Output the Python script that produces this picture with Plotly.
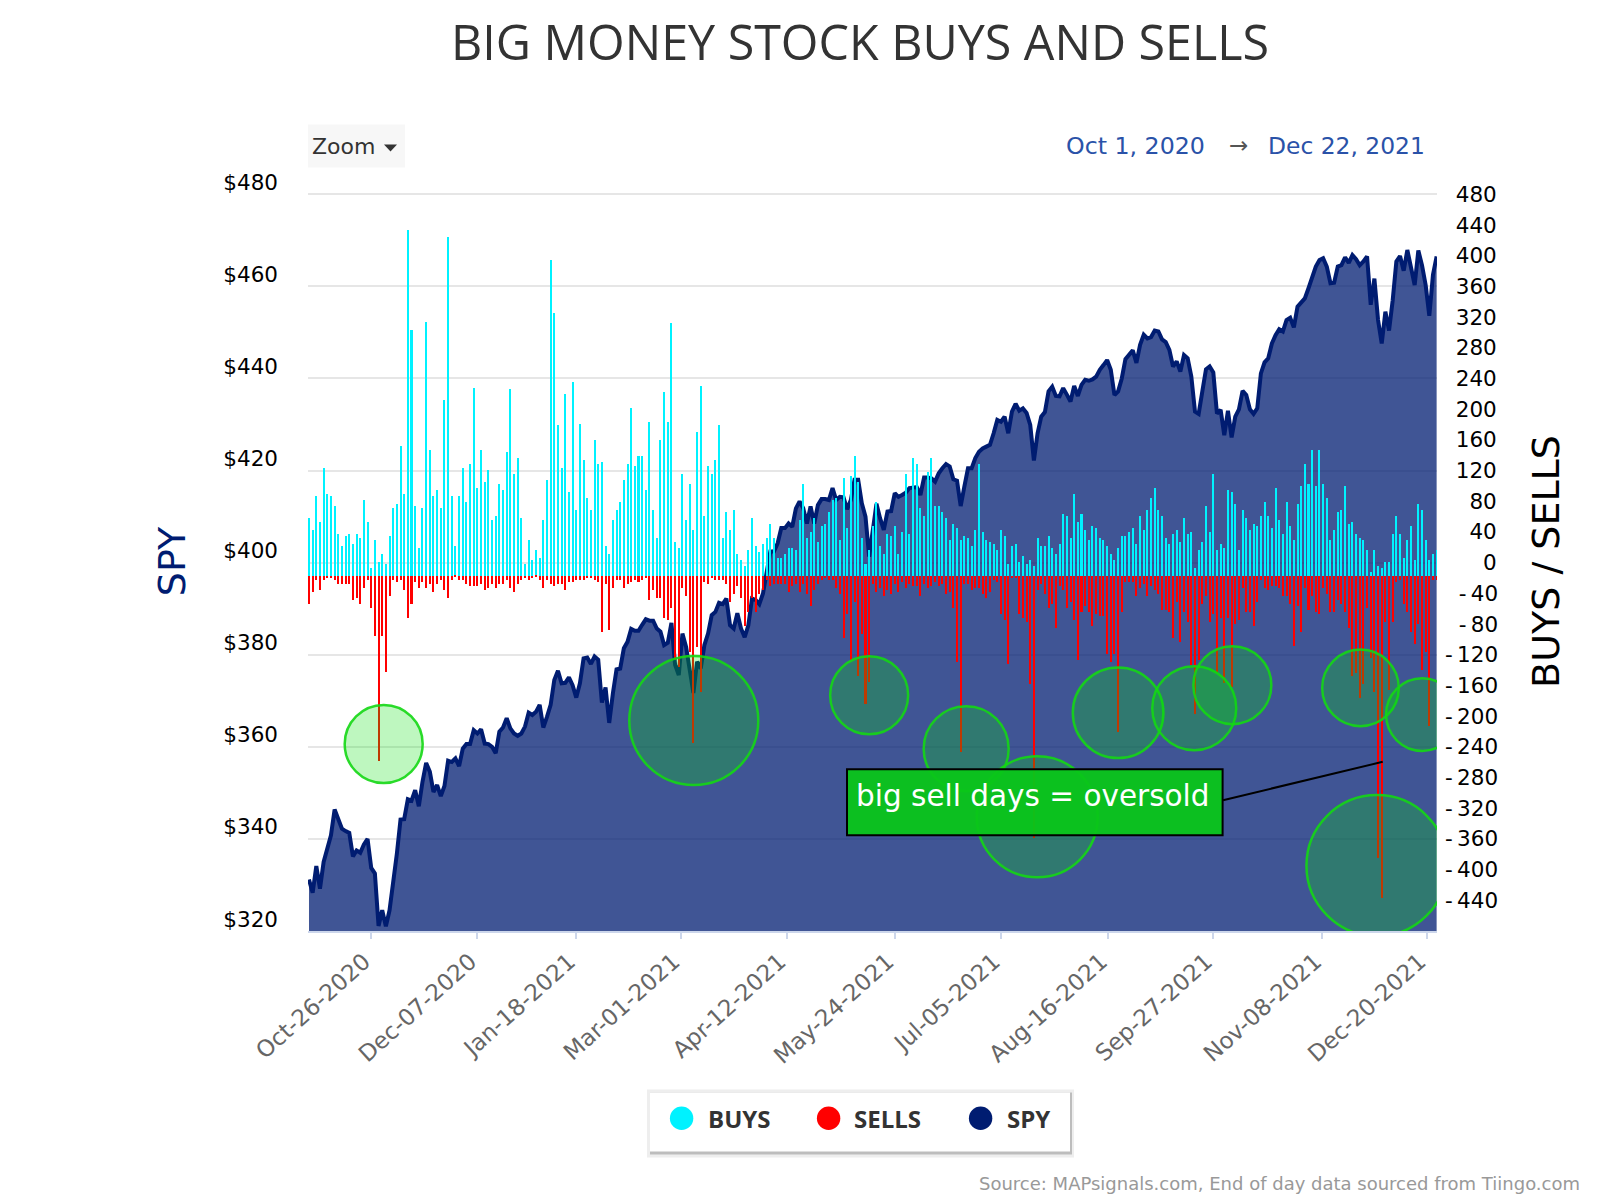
import pandas as pd
import plotly.graph_objects as go

buys = [76,60,104,70,141,107,104,91,55,39,52,55,42,55,50,99,70,10,47,18,29,16,52,89,94,169,107,451,321,91,
37,89,331,164,104,112,89,229,441,104,39,104,141,96,146,245,115,164,123,138,73,78,120,112,162,243,133,154,76,16,
47,21,34,23,73,125,412,342,196,141,237,110,253,86,198,151,102,86,177,146,149,39,29,73,86,96,125,146,219,143,
156,156,112,201,86,50,177,240,201,329,44,37,133,73,120,60,188,248,78,143,133,151,196,50,83,60,86,29,21,13,
34,76,39,31,42,50,68,50,23,23,29,37,37,34,73,120,50,57,76,44,65,68,83,99,102,47,128,63,130,156,
123,50,16,34,65,96,39,29,55,52,65,29,57,133,55,154,146,89,78,136,154,91,91,83,76,47,68,63,47,52,
50,39,60,146,57,47,44,42,34,60,52,16,39,42,18,26,16,21,13,50,39,39,52,37,29,42,81,78,50,107,
70,81,60,47,65,63,50,47,39,29,21,37,52,52,57,63,42,78,60,86,102,115,86,78,50,42,55,60,44,76,
55,57,10,34,44,91,57,133,34,42,37,112,110,94,34,86,76,60,68,65,78,96,78,63,115,73,55,96,65,47,
94,117,146,120,164,117,164,120,102,47,60,83,86,117,68,70,55,50,47,34,5,34,13,10,18,18,55,78,55,23,
47,65,21,94,86,47,21,29,34]

sells = [-37,-21,-5,-18,-5,-3,-3,-5,-10,-10,-10,-10,-31,-29,-37,-16,-5,-42,-78,-241,-78,-125,-26,-5,-8,-5,-18,-55,-37,-8,
-16,-8,-16,-10,-21,-10,-5,-18,-29,-5,-1,-5,-5,-10,-13,-13,-13,-10,-18,-16,-10,-16,-10,-10,-5,-16,-21,-10,-5,-3,
-5,-3,-1,-5,-16,-5,-10,-13,-10,-10,-18,-8,-8,-5,-5,-5,-3,-3,-5,-8,-73,-10,-70,-16,-5,-5,-16,-10,-8,-5,
-8,-5,-3,-31,-18,-29,-29,-55,-57,-42,-110,-118,-16,-26,-99,-218,-92,-151,-8,-10,-3,-5,-5,-5,-10,-34,-23,-13,-29,-65,
-47,-29,-47,-23,-18,-5,-13,-10,-10,-10,-10,-21,-13,-10,-21,-10,-23,-39,-18,-10,-5,-3,-5,-5,-16,-23,-81,-50,-110,-34,
-130,-76,-167,-138,-10,-21,-16,-26,-18,-23,-10,-21,-8,-16,-10,-13,-13,-26,-10,-16,-13,-8,-13,-10,-23,-21,-42,-112,-229,-10,
-10,-18,-16,-16,-23,-29,-21,-5,-8,-50,-57,-115,-3,-3,-50,-55,-60,-141,-341,-18,-10,-23,-42,-37,-68,-13,-18,-42,-34,-57,
-110,-47,-39,-47,-65,-50,-52,-52,-102,-112,-102,-203,-47,-8,-8,-8,-26,-16,-10,-26,-13,-18,-23,-44,-44,-47,-81,-34,-86,-47,
-60,-116,-180,-110,-37,-26,-60,-50,-127,-55,-140,-55,-144,-63,-57,-16,-47,-47,-65,-34,-5,-16,-18,-13,-13,-16,-26,-26,-37,-91,
-39,-73,-16,-44,-26,-47,-50,-16,-23,-47,-47,-31,-37,-47,-68,-130,-127,-159,-141,-42,-107,-151,-368,-420,-60,-149,-60,-8,-5,-37,
-47,-73,-89,-63,-123,-99,-196,-5,-5]

spy = [331.2,328.3,334.1,329.2,335,337.9,340.8,346.4,344.4,342.2,341.7,341.3,336.2,337.5,337,338.8,340,333.7,332.5,321.1,
324.5,321,324.5,330.3,336.8,344.2,344.3,348.6,348.3,350.6,347.1,352.4,356.5,354.6,350.2,351.7,349.3,351.5,357,356.7,
357.5,355.8,359.6,360.6,360.6,363.6,362.9,363.8,360.7,360.6,360,358.6,363.3,364.2,366.2,364,362.9,362.4,362.9,364.4,
367.4,366.9,367.6,369.1,364.2,366.5,369.1,374.5,376.5,373.8,373.9,375.1,373.4,370.7,373.8,379.2,379.4,378,379.6,378.9,
369.6,372.9,365.2,371.6,376.8,377,381.4,382.8,385.6,385.2,385.2,386.5,387.7,387.4,387.4,385.7,385,382.1,382.6,386.9,
377.8,375.6,384.6,381.7,376.7,371.7,378.5,377,382.1,384.6,388.6,389.3,391.3,391,392.2,386.4,385.7,389,385.7,383.8,
386.4,392.2,391.9,391,393.3,398.4,402.4,402.4,404.2,407.5,407.5,408.5,407.8,411.8,413.3,411.8,408.5,412.2,408.5,412.5,
413.8,413.8,413.6,416.2,413.6,414.3,414.2,411.6,413.6,418,418,412.9,410,401.3,407.1,412.8,409.6,407.1,411.1,411.2,
415.1,414.3,414.7,415.2,416.2,416.2,416.4,414.7,418.5,418.5,418.3,417.6,419.4,420.5,421.4,420.9,418.1,417.8,412.3,416.5,
420.5,420.5,422.7,424.1,424.8,425.2,425.6,428.1,431,430.6,431.7,428.1,432.8,434.5,433,433.5,432.5,429.9,422.2,428.1,
431.7,432.7,437.2,438.2,436.2,436.1,437.9,436.5,435,438.4,436.2,438.6,439.7,439.5,439.8,440.4,441.9,442.9,444,441.9,
436.4,437.2,440,444.2,445,446.1,443.4,447.3,449.5,448.7,449,450.4,450.2,448.5,447.9,446.2,442.6,443.7,441.5,445.1,
444.4,440.4,432.8,432.3,437.2,442,442.6,441.3,432.4,433.2,427.7,433,427.2,431.7,433.3,437.3,436.4,433.3,432.3,433.5,
441.1,443.5,444.4,447.6,449.4,450.7,450.2,452.7,453.2,451.1,455.6,456.5,457.4,459.6,462.1,464.3,465.7,466.1,464.3,460.7,
460.8,464.3,464.6,466.3,465.1,466.8,465.9,464.6,465.4,466.5,456,461.7,452.7,447.6,454.5,450.4,457,465.4,466.6,463.4,
467.9,463.6,460.3,467.8,464.6,460.3,453.6,462.5,466.5]

holidays = ["2020-11-26","2020-12-25","2021-01-01","2021-01-18","2021-02-15","2021-04-02",
            "2021-05-31","2021-07-05","2021-09-06","2021-11-25"]
days = pd.bdate_range("2020-10-01", "2021-12-22").difference(pd.to_datetime(holidays))
dates = [d.strftime("%b-%d-%Y") for d in days]

tick_labels = ["Oct-26-2020","Dec-07-2020","Jan-18-2021","Mar-01-2021","Apr-12-2021","May-24-2021",
               "Jul-05-2021","Aug-16-2021","Sep-27-2021","Nov-08-2021","Dec-20-2021"]
tick_pos = [17,46,73,101.5,130.5,160,189,218.3,247,276.8,305.3]
left_ticks = [320,340,360,380,400,420,440,460,480]
right_ticks = [480,440,400,360,320,280,240,200,160,120,80,40,0,-40,-80,-120,-160,-200,-240,-280,-320,-360,-400,-440]

# oversold markers: trading-day position, SPY level, radius in pixels
circle_pos = [20.4,105.1,153,179.5,198.9,221,241.8,252.2,287.2,304.1,291.7]
circle_lvl = [360.6,365.7,371.2,359.6,344.8,367.4,368.4,373.4,372.8,367,334.2]
circle_rad = [39,64.5,39,42.5,60.5,45.3,42,39,38.3,36.3,70.5]

legend_names = ["BUYS", "SELLS", "SPY"]
legend_colors = ["#00f2ff", "#ff0000", "#001c71"]

W, H = 1600, 1200
L, R, T, B = 308, 1437, 192.4, 930.7
def px(x): return (x - L) / (R - L)
def py(y): return (B - y) / (B - T)
BAR_ZERO = 576
UNIT = 0.767
FONT = "DejaVu Sans"
NAVY = "#001c71"

def right_label(v):
    s = str(v)
    pad = 3 - len(s.lstrip("-"))
    if v < 0:
        return "\u2007" * pad + "-\u2009" + s[1:]
    return "\u2007" * pad + "\u2002" + s

fig = go.Figure()
fig.add_trace(go.Scatter(x=dates, y=spy, mode="lines", name="SPY", line=dict(color=NAVY, width=4),
                         fill="tozeroy", fillcolor="rgba(0,28,113,0.75)", showlegend=False,
                         yaxis="y", hoverinfo="skip"))
fig.add_trace(go.Scatter(x=[dates[0]], y=[None], yaxis="y2", showlegend=False, hoverinfo="skip"))
fig.add_trace(go.Bar(x=dates, y=buys, name="BUYS", marker=dict(color="#00f2ff", line_width=0), width=0.55,
                     yaxis="y3", showlegend=False))
fig.add_trace(go.Bar(x=dates, y=sells, name="SELLS", marker=dict(color="#ff0000", line_width=0), width=0.55,
                     yaxis="y3", showlegend=False))

shapes = []
for c, l, r in zip(circle_pos, circle_lvl, circle_rad):
    shapes.append(dict(type="circle", xref="x", yref="y", xsizemode="pixel", ysizemode="pixel",
                       xanchor=c, yanchor=l, x0=-r, x1=r, y0=-r, y1=r,
                       fillcolor="rgba(5,224,8,0.26)", line=dict(color="rgba(20,215,20,0.9)", width=2.5)))
def rect(x0, x1, y0, y1, fill, **kw):
    return dict(type="rect", xref="paper", yref="paper", x0=px(x0), x1=px(x1), y0=py(y0), y1=py(y1),
                fillcolor=fill, line=kw.get("line", dict(width=0)))
# callout
shapes.append(dict(type="line", xref="paper", yref="paper", x0=px(1223), y0=py(800), x1=px(1382.7), y1=py(761.7),
                   line=dict(color="black", width=2)))
shapes.append(rect(847, 1222.6, 769, 835, "rgba(10,197,25,0.95)", line=dict(color="black", width=2)))
# zoom button
shapes.append(rect(308, 405, 125, 168, "#f7f7f7"))
shapes.append(dict(type="path", xref="paper", yref="paper",
                   path=f"M {px(384)} {py(145)} L {px(397)} {py(145)} L {px(390.5)} {py(152)} Z",
                   fillcolor="#333333", line_width=0))
# legend box with shadow
shapes.append(rect(647, 1074, 1089, 1157, "#eeeeee"))
shapes.append(rect(650, 1072, 1092, 1154, "#bdbdbd"))
shapes.append(rect(650, 1070, 1092, 1151, "#ffffff"))

def ann(text, x, y, size, color, xanchor="left", **kw):
    family = kw.pop("family", FONT)
    weight = kw.pop("weight", "normal")
    return dict(text=text, xref="paper", yref="paper", x=px(x), y=py(y), showarrow=False,
                xanchor=xanchor, yanchor="middle", font=dict(family=family, size=size, color=color, weight=weight), **kw)

annotations = [
    ann("BIG MONEY STOCK BUYS AND SELLS", 860, 42, 48.4, "#333333", "center", family="Open Sans"),
    ann("Zoom", 310, 147, 22, "#333333"),
    ann("Oct 1, 2020", 1064, 146, 23.7, "#2a52a8"),
    ann("\u2192", 1238, 145, 23, "#555555", "center"),
    ann("Dec 22, 2021", 1266, 146, 23.4, "#2a52a8"),
    ann("Source: MAPsignals.com, End of day data sourced from Tiingo.com", 1582, 1183, 18, "#999999", "right"),
    ann("big sell days = oversold", 1033.3, 796, 29.5, "white", "center"),
]
legend_cx = [681.6, 828.6, 980.6]
legend_tx = [706, 852, 1005]
for name, col, cx, tx in zip(legend_names, legend_colors, legend_cx, legend_tx):
    shapes.append(dict(type="circle", xref="paper", yref="paper", x0=px(cx - 11.7), x1=px(cx + 11.7),
                       y0=py(1117.7 - 11.7), y1=py(1117.7 + 11.7), fillcolor=col, line_width=0))
    annotations.append(ann(name, tx, 1118.5, 24, "#333333", family="Open Sans", weight="bold"))

fig.update_layout(
    width=W, height=H, autosize=False,
    margin=dict(l=L, r=W - R, t=T, b=H - B, pad=0),
    paper_bgcolor="white", plot_bgcolor="white",
    barmode="relative", bargap=0, showlegend=False, hovermode=False,
    xaxis=dict(type="category", categoryorder="array", categoryarray=dates, range=[-0.27, 308.1],
               tickmode="array", tickvals=tick_pos, ticktext=tick_labels, tickangle=-42,
               tickfont=dict(family=FONT, size=23, color="#666666"), ticklabelshift=-7,
               showgrid=False, zeroline=False, showline=True, linecolor="#ccd6eb", linewidth=2,
               ticks="outside", ticklen=6, tickcolor="#ccd6eb", tickwidth=2),
    yaxis=dict(range=[320, 480.5], tickmode="array", tickvals=left_ticks,
               ticktext=[f"${v}" for v in left_ticks], showgrid=True, gridcolor="#e6e6e6", gridwidth=2,
               zeroline=False, showline=False, ticks="", ticklabelstandoff=29, ticklabelshift=-12,
               tickfont=dict(family=FONT, size=21.5, color="black"),
               title=dict(text="SPY", font=dict(family=FONT, size=38, color=NAVY), standoff=25)),
    yaxis2=dict(range=[-480, 483], overlaying="y", side="right", anchor="x", tickmode="array",
                tickvals=right_ticks, ticktext=[right_label(v) for v in right_ticks],
                showgrid=False, zeroline=False, showline=False, ticks="", ticklabelstandoff=7,
                tickfont=dict(family=FONT, size=21.5, color="black"),
                title=dict(text="BUYS / SELLS", font=dict(family=FONT, size=38, color="black"), standoff=35)),
    yaxis3=dict(range=[(BAR_ZERO - B) / UNIT, (BAR_ZERO - T) / UNIT], overlaying="y", anchor="x", visible=False),
    shapes=shapes, annotations=annotations,
)
fig.write_html("out.html", config=dict(displayModeBar=False), post_script="document.body.style.margin='0';")
